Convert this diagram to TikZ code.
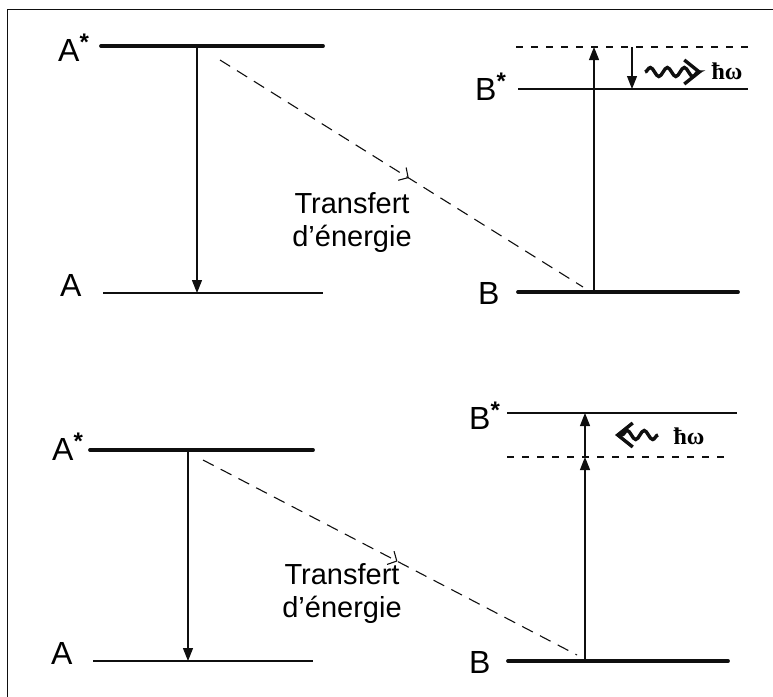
\documentclass[tikz,border=0pt]{standalone}
\usepackage{fontspec}
\setmainfont{Liberation Sans}
\newfontfamily\hwfont{Liberation Serif}
\usetikzlibrary{arrows.meta,decorations.pathmorphing,decorations.markings}
\definecolor{scanink}{RGB}{15,15,15}
\tikzset{
  lvlthick/.style={draw=scanink, line width=3.8pt, line cap=round},
  lvlthin/.style={draw=scanink, line width=1.4pt},
  lvlvirtual/.style={draw=scanink, line width=1.1pt, dash pattern=on 7pt off 8pt},
  jump/.style={draw=scanink, line width=1.1pt, -{Triangle[length=13pt,width=10pt]}},
  transfer/.style={draw=scanink, line width=1.1pt, dash pattern=on 12pt off 8pt,
    postaction={decorate},
    decoration={markings, mark=at position 0.52 with {\arrow{Straight Barb[length=7pt,width=15pt,line width=1.1pt]}}}},
  photon/.style={draw=scanink, line width=3.4pt, decorate,
    decoration={snake, amplitude=4.5pt, segment length=17pt, post length=1pt},
    -{Straight Barb[length=15pt,width=24pt,line width=3.4pt]}},
  lvllabel/.style={font=\fontsize{32}{36}\selectfont, inner sep=0pt, anchor=base west},
  note/.style={font=\fontsize{29}{33}\selectfont, align=center, inner sep=0pt},
  hw/.style={font=\hwfont\bfseries\fontsize{24}{26}\selectfont, inner sep=0pt}
}
\newcommand{\excited}{\raisebox{11pt}{\fontsize{24}{24}\selectfont\bfseries *}}

\begin{document}
\begin{tikzpicture}[x=1pt, y=-1pt]
  \useasboundingbox (0,0) rectangle (773,696);
  \draw[scanink, line width=1pt] (7,700) -- (7,9) -- (773,9);

  % upper scheme: B* lies below the virtual level
  \node[lvllabel] (uAstarlbl) at (58,61) {A\excited};
  \node[lvllabel] (uAlbl) at (60,296) {A};
  \node[lvllabel] (uBstarlbl) at (475,100) {B\excited};
  \node[lvllabel] (uBlbl) at (478,304) {B};
  \coordinate (uAstarL) at (101,46);  \coordinate (uAstarR) at (323,46);
  \coordinate (uAL) at (103,293);     \coordinate (uAR) at (323,293);
  \coordinate (uBvL) at (516,47);     \coordinate (uBvR) at (748,47);
  \coordinate (uBstarL) at (518,89);  \coordinate (uBstarR) at (748,89);
  \coordinate (uBL) at (518,292);     \coordinate (uBR) at (738,292);
  \draw[lvlthick] (uAstarL) -- (uAstarR);
  \draw[lvlthin] (uAL) -- (uAR);
  \draw[lvlvirtual] (uBvL) -- (uBvR);
  \draw[lvlthin] (uBstarL) -- (uBstarR);
  \draw[lvlthick] (uBL) -- (uBR);

  \coordinate (uAdown0) at (197,46);  \coordinate (uAdown1) at (197,293);
  \coordinate (uBup0) at (594,292);   \coordinate (uBup1) at (594,47);
  \coordinate (uBrel0) at (632,47);   \coordinate (uBrel1) at (632,89);
  \draw[jump] (uAdown0) -- (uAdown1);
  \draw[jump] (uBup0) -- (uBup1);
  \draw[jump] (uBrel0) -- (uBrel1);

  \coordinate (uET0) at (220,60);     \coordinate (uET1) at (583,287);
  \draw[transfer] (uET0) -- (uET1);
  \node[note] (uETlbl) at (352,223) {Transfert\\d’énergie};

  \coordinate (uPh0) at (645,72);     \coordinate (uPh1) at (702,72);
  \draw[photon] (uPh0) -- (uPh1);
  \node[hw] (uhw) at (727,71) {ħω};

  % lower scheme: B* lies above the virtual level
  \node[lvllabel] (lAstarlbl) at (52,460) {A\excited};
  \node[lvllabel] (lAlbl) at (51,664) {A};
  \node[lvllabel] (lBstarlbl) at (469,429) {B\excited};
  \node[lvllabel] (lBlbl) at (469,673) {B};
  \coordinate (lAstarL) at (90,450);  \coordinate (lAstarR) at (313,450);
  \coordinate (lAL) at (93,661);      \coordinate (lAR) at (313,661);
  \coordinate (lBstarL) at (507,413); \coordinate (lBstarR) at (737,413);
  \coordinate (lBvL) at (507,457);    \coordinate (lBvR) at (730,457);
  \coordinate (lBL) at (508,661);     \coordinate (lBR) at (728,661);
  \draw[lvlthick] (lAstarL) -- (lAstarR);
  \draw[lvlthin] (lAL) -- (lAR);
  \draw[lvlthin] (lBstarL) -- (lBstarR);
  \draw[lvlvirtual] (lBvL) -- (lBvR);
  \draw[lvlthick] (lBL) -- (lBR);

  \coordinate (lAdown0) at (188,450); \coordinate (lAdown1) at (188,661);
  \coordinate (lBup0) at (585,661);   \coordinate (lBup1) at (585,457);
  \coordinate (lBup2) at (585,413);
  \draw[jump] (lAdown0) -- (lAdown1);
  \draw[jump] (lBup0) -- (lBup1);
  \draw[jump] (lBup1) -- (lBup2);

  \coordinate (lET0) at (203,460);    \coordinate (lET1) at (577,655);
  \draw[transfer] (lET0) -- (lET1);
  \node[note] (lETlbl) at (342,594) {Transfert\\d’énergie};

  \coordinate (lPh0) at (658,435);    \coordinate (lPh1) at (615,435);
  \draw[photon] (lPh0) -- (lPh1);
  \node[hw] (lhw) at (689,436) {ħω};
\end{tikzpicture}
\end{document}
